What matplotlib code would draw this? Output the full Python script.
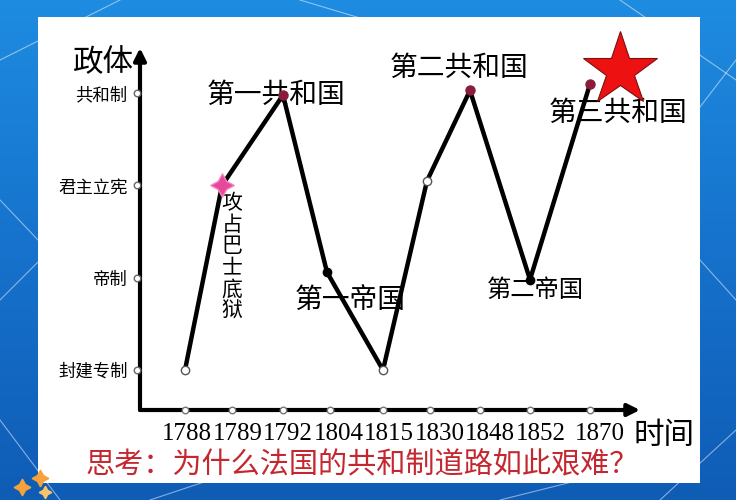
import numpy as np
import matplotlib.pyplot as plt
from matplotlib.patches import Rectangle

plt.rcParams['font.family'] = ['Noto Sans CJK SC', 'DejaVu Sans']

# -- data --
years = ['1788', '1789', '1792', '1804', '1815', '1830', '1848', '1852', '1870']
tick_pos = [0, 0.94, 1.96, 2.9, 3.96, 4.9, 5.9, 6.9, 8.1]
regimes = ['封建专制', '帝制', '君主立宪', '共和制']
levels = [0, 1, 2, 3]

path_x = [0, 0.74, 1.96, 2.84, 3.96, 4.84, 5.7, 6.9, 8.1]
path_y = [0, 2.0, 2.98, 1.06, 0, 2.05, 3.03, 0.98, 3.1]
# marker kind for each point
kinds = ['open', 'spark', 'red', 'black', 'open', 'open', 'red', 'black', 'red']


fig = plt.figure(figsize=(7.36, 5), dpi=100)

# ---------------- background ----------------
bg = fig.add_axes([0, 0, 1, 1])
bg.set_xlim(0, 736)
bg.set_ylim(500, 0)
bg.axis('off')

grad = np.linspace(0, 1, 256).reshape(-1, 1)
bg.imshow(grad, cmap=plt.matplotlib.colors.LinearSegmentedColormap.from_list(
    'bl', ['#1e8ce0', '#1672cc', '#0f5cb5']), extent=[0, 736, 500, 0],
    aspect='auto', zorder=0)

for x0, y0, x1, y1 in [(0, 60, 120, 0), (0, 420, 60, 500), (0, 300, 40, 260),
                       (620, 0, 736, 80), (690, 120, 736, 60), (660, 500, 736, 430),
                       (700, 260, 736, 300), (150, 500, 240, 470), (500, 500, 580, 480),
                       (0, 200, 38, 240), (300, 0, 360, 18)]:
    bg.plot([x0, x1], [y0, y1], color='white', lw=0.8, alpha=0.5, zorder=1)

bg.add_patch(Rectangle((38, 17), 662, 466, facecolor='white', edgecolor='none', zorder=2))

bg.plot([22, 40], [487, 478], marker=(4, 1, 0), ls='none', ms=12,
        color='#f5a23a', zorder=3)
bg.plot([45], [492], marker=(4, 1, 0), ls='none', ms=9, color='#f7c46a', zorder=3)

# ---------------- main chart ----------------
ax = fig.add_axes([140 / 736, 90 / 500, 500 / 736, 362 / 500])
ax.set_facecolor('none')
ax.set_xlim(-0.9, 9.1)
ax.set_ylim(-0.433, 3.49)
for s in ax.spines.values():
    s.set_visible(False)

arrow = dict(arrowstyle='-|>', lw=3, color='black', mutation_scale=18,
             shrinkA=0, shrinkB=0)
ax.annotate('', xy=(1.0, 0), xytext=(0, 0), xycoords='axes fraction', arrowprops=arrow)
ax.annotate('', xy=(0, 1.0), xytext=(0, 0), xycoords='axes fraction', arrowprops=arrow)

ax.set_yticks(levels, regimes, fontsize=12.5)
ax.tick_params(length=0)
ax.tick_params(axis='y', pad=9)

# year labels sit packed side by side, a bit right of their tick circles
ax.set_xticks([])
lab_x = [0.04, 1.06, 2.06, 3.08, 4.08, 5.1, 6.1, 7.12, 8.3]
for x, yr in zip(lab_x, years):
    ax.text(x, -0.065, yr, fontsize=18, family='Liberation Serif', ha='center',
            va='center', transform=ax.get_xaxis_transform())

# small open circles on the axes
ax.scatter([-0.006] * len(levels), levels, s=22, facecolor='white',
           edgecolor='#666666', lw=1, transform=ax.get_yaxis_transform(),
           clip_on=False, zorder=5)
ax.scatter(tick_pos, [0.0] * len(tick_pos), s=22, facecolor='white',
           edgecolor='#777777', lw=1, transform=ax.get_xaxis_transform(),
           clip_on=False, zorder=5)

ax.plot(path_x, path_y, color='black', lw=3.2, solid_joinstyle='round', zorder=3)

for x, y, k in zip(path_x, path_y, kinds):
    if k == 'open':
        ax.plot(x, y, 'o', ms=6, mfc='white', mec='#555555', mew=1, zorder=4)
    elif k == 'red':
        ax.plot(x, y, 'o', ms=6.5, color='#8a1c3c', zorder=4)
    elif k == 'black':
        ax.plot(x, y, 'o', ms=6, color='black', zorder=4)
    else:
        ax.plot(x, y, marker=(4, 1, 0), ms=17, color='#e8479a', mec='#f08cc0',
                zorder=4)

# ---------------- texts (pixel layout) ----------------
fs = 20
bg.text(103, 63, '政体', fontsize=22, ha='center', va='center', zorder=3)
bg.text(664, 435, '时间', fontsize=22, ha='center', va='center', zorder=3)
bg.text(276, 95, '第一共和国', fontsize=fs, ha='center', va='center', zorder=3)
bg.text(459, 68, '第二共和国', fontsize=fs, ha='center', va='center', zorder=3)
bg.text(618, 113, '第三共和国', fontsize=fs, ha='center', va='center', zorder=3)
bg.text(350, 300, '第一帝国', fontsize=fs, ha='center', va='center', zorder=3)
bg.text(535, 290, '第二帝国', fontsize=17.5, ha='center', va='center', zorder=3)
bg.text(232, 257, '\n'.join('攻占巴士底狱'), fontsize=15, ha='center', va='center',
        linespacing=0.97, zorder=3)
bg.text(362, 465, '思考：为什么法国的共和制道路如此艰难？', fontsize=21,
        color='#c4272f', ha='center', va='center', zorder=3)

ax.plot([0.96], [0.94], marker='*', ms=56, color='#ee1111', mec='#7a1010',
        mew=0.8, transform=ax.transAxes, clip_on=False, zorder=2)

fig.savefig('out.png', dpi=100)
